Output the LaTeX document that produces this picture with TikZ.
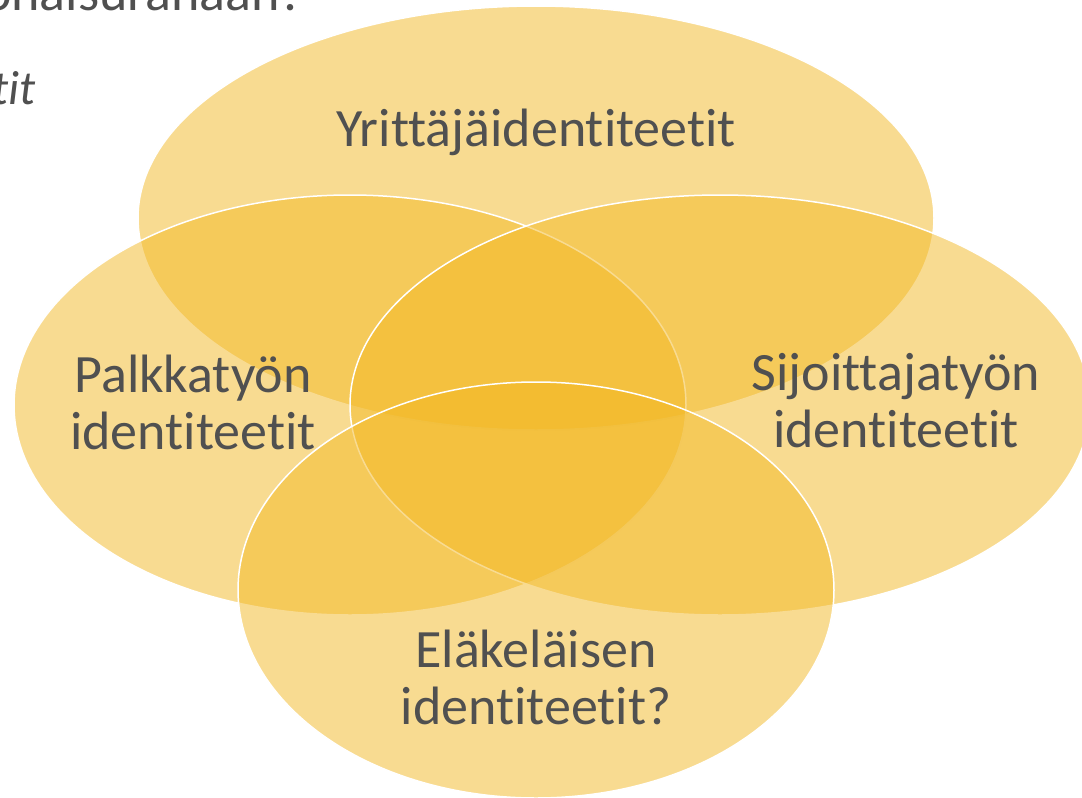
\documentclass[tikz,border=0pt]{standalone}
\usepackage{fontspec}
\setmainfont[RawFeature={-liga;-clig;-calt;-dlig}]{Carlito}
\definecolor{petalgold}{HTML}{F2B824}
\definecolor{labelgray}{HTML}{505050}
\tikzset{
  petal/.style={fill=petalgold, fill opacity=0.5, draw=white, line width=1.5pt},
  label/.style={text=labelgray, align=center, font=\fontsize{54}{57}\selectfont, inner sep=0pt}
}
\begin{document}
\begin{tikzpicture}[x=1pt,y=-1pt]
  \useasboundingbox (0,0) rectangle (1082,798);
  \clip (0,0) rectangle (1082,798);
  % cut slide text
  \node[text=labelgray, anchor=base east, inner sep=0pt,
       font=\fontsize{54}{60}\selectfont](title) at (305,10) {kokonaisuranaan?};
  \node[text=labelgray, anchor=base east, inner sep=0pt,
       font=\fontsize{48}{54}\itshape](sub) at (36,104) {identiteetit};
  % the four ellipses
  \draw[petal] (536,218) ellipse [x radius=398, y radius=212];
  \draw[petal] (350,405) ellipse [x radius=336, y radius=210];
  \draw[petal] (720,405) ellipse [x radius=370, y radius=210];
  \draw[petal] (536,590) ellipse [x radius=298, y radius=208];
  % labels
  \node[label, anchor=base](yr) at (536,146) {Yrittäjäidentiteetit};
  \node[label](pa) at (193,402) {Palkkatyön\\identiteetit};
  \node[label](si) at (896,401) {Sijoittajatyön\\identiteetit};
  \node[label](el) at (536,677) {Eläkeläisen\\identiteetit?};
\end{tikzpicture}
\end{document}
